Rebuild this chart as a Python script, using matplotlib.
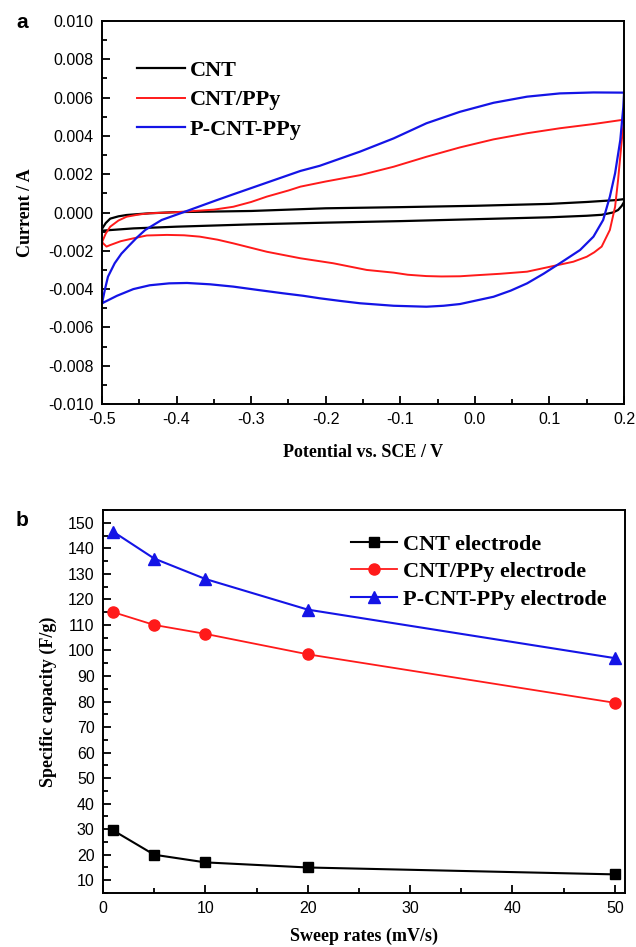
import numpy as np
import matplotlib
matplotlib.use('Agg')
import matplotlib.pyplot as plt
from matplotlib.ticker import MultipleLocator

# ---------------- panel a : CV loops (potential in V, current in mA) ----------------
cnt_v = [-0.5, -0.495, -0.489, -0.478, -0.467, -0.45, -0.436, -0.40, -0.35, -0.30, -0.20, -0.10,
         0.0, 0.10, 0.15, 0.19, 0.2,
         0.2, 0.197, 0.192, 0.185, 0.17, 0.15, 0.10, 0.0, -0.10, -0.20, -0.30, -0.40, -0.458, -0.49, -0.5]
cnt_i = [-0.85, -0.55, -0.32, -0.2, -0.13, -0.08, -0.04, 0.02, 0.05, 0.08, 0.22, 0.28,
         0.35, 0.45, 0.55, 0.65, 0.7,
         0.55, 0.35, 0.13, 0.0, -0.12, -0.17, -0.25, -0.35, -0.45, -0.53, -0.62, -0.74, -0.83, -0.92, -0.95]

pyy_v = [-0.5, -0.495, -0.489, -0.478, -0.467, -0.45, -0.436, -0.41, -0.391, -0.35, -0.324, -0.30,
         -0.279, -0.25, -0.234, -0.20, -0.154, -0.109, -0.065, -0.020, 0.025, 0.070, 0.114, 0.159, 0.2,
         0.2, 0.197, 0.192, 0.188, 0.181, 0.170, 0.160, 0.150, 0.132, 0.101, 0.070, 0.034, 0.0, -0.020,
         -0.045, -0.065, -0.090, -0.109, -0.145, -0.190, -0.234, -0.279, -0.324, -0.345, -0.369,
         -0.39, -0.413, -0.440, -0.458, -0.475, -0.489, -0.494, -0.5]
pyy_i = [-1.55, -1.1, -0.74, -0.42, -0.22, -0.1, -0.04, 0.0, 0.04, 0.15, 0.30, 0.55,
         0.83, 1.15, 1.35, 1.62, 1.95, 2.39, 2.91, 3.40, 3.82, 4.14, 4.40, 4.62, 4.85,
         4.85, 3.79, 1.70, 0.30, -0.91, -1.78, -2.08, -2.31, -2.57, -2.83, -3.09, -3.20, -3.28, -3.33,
         -3.34, -3.32, -3.25, -3.14, -3.0, -2.65, -2.39, -2.05, -1.61, -1.42, -1.26,
         -1.19, -1.17, -1.2, -1.35, -1.5, -1.70, -1.78, -1.55]

pcp_v = [-0.5, -0.496, -0.492, -0.483, -0.474, -0.465, -0.453, -0.442, -0.420, -0.389, -0.348,
         -0.324, -0.279, -0.234, -0.208, -0.154, -0.109, -0.065, -0.020, 0.025, 0.070, 0.114,
         0.159, 0.2,
         0.2, 0.199, 0.195, 0.188, 0.181, 0.172, 0.159, 0.141, 0.114, 0.092, 0.070, 0.048, 0.025,
         -0.020, -0.042, -0.065, -0.109, -0.154, -0.18, -0.208, -0.23, -0.257, -0.29, -0.324,
         -0.355, -0.386, -0.41, -0.436, -0.458, -0.480, -0.5]
pcp_i = [-4.74, -4.0, -3.35, -2.65, -2.15, -1.78, -1.3, -0.91, -0.39, 0.04, 0.62,
         0.95, 1.56, 2.17, 2.44, 3.18, 3.87, 4.66, 5.26, 5.73, 6.05, 6.22,
         6.27, 6.26,
         6.26, 5.5, 3.79, 2.05, 0.83, -0.39, -1.26, -1.96, -2.65, -3.2, -3.70, -4.08, -4.40,
         -4.78, -4.87, -4.92, -4.87, -4.74, -4.62, -4.48, -4.35, -4.22, -4.05, -3.87,
         -3.75, -3.68, -3.70, -3.80, -4.0, -4.35, -4.74]

# ---------------- panel b : capacity vs sweep rate ----------------
rates = [1, 5, 10, 20, 50]
cap_cnt = [29.5, 20.0, 17.0, 15.0, 12.3]
cap_pyy = [115.0, 110.0, 106.5, 98.5, 79.5]
cap_pcp = [146.5, 136.0, 128.0, 116.0, 97.0]

sans = 'Liberation Sans'
serif = 'Liberation Serif'
plt.rcParams['font.family'] = sans
plt.rcParams['axes.linewidth'] = 1.4

fig = plt.figure(figsize=(6.36, 9.47), dpi=100)

# ---- a ----
ax1 = fig.add_axes([0.1604, 0.5734, 0.8208, 0.4044])
ax1.plot(cnt_v, np.array(cnt_i) / 1000, color='black', lw=1.6, label='CNT')
ax1.plot(pyy_v, np.array(pyy_i) / 1000, color='#ff1a1a', lw=1.4, label='CNT/PPy')
ax1.plot(pcp_v, np.array(pcp_i) / 1000, color='#1414e6', lw=1.6, label='P-CNT-PPy')
ax1.set_xlim(-0.5, 0.2)
ax1.set_ylim(-0.010, 0.010)
ax1.xaxis.set_minor_locator(MultipleLocator(0.05))
ax1.yaxis.set_minor_locator(MultipleLocator(0.001))
ax1.set_xticks(np.arange(-0.5, 0.21, 0.1))
ax1.set_xticklabels(['-0.5', '-0.4', '-0.3', '-0.2', '-0.1', '0.0', '0.1', '0.2'])
ax1.set_yticks(np.arange(-0.010, 0.0101, 0.002))
ax1.set_yticklabels(['%.3f' % v for v in np.arange(-0.010, 0.0101, 0.002)])
ax1.set_xlabel('Potential vs. SCE / V', family=serif, weight='bold', fontsize=13, labelpad=12)
ax1.set_ylabel('Current / A', family=serif, weight='bold', fontsize=13, labelpad=10)
ax1.legend(loc='upper left', bbox_to_anchor=(0.067, 0.897), frameon=False,
           prop={'family': serif, 'weight': 'bold', 'size': 16},
           handlelength=2.15, handletextpad=0.22, labelspacing=0.4, borderaxespad=0,
           borderpad=0)

# ---- b ----
ax2 = fig.add_axes([0.162, 0.0570, 0.8208, 0.4044])
ax2.plot(rates, cap_cnt, color='black', lw=1.5, marker='s', ms=7, label='CNT electrode')
ax2.plot(rates, cap_pyy, color='#ff1a1a', lw=1.3, marker='o', ms=8, label='CNT/PPy electrode')
ax2.plot(rates, cap_pcp, color='#1414e6', lw=1.5, marker='^', ms=8.5, label='P-CNT-PPy electrode')
ax2.set_xlim(0, 51)
ax2.set_ylim(5, 155)
ax2.xaxis.set_major_locator(MultipleLocator(10))
ax2.xaxis.set_minor_locator(MultipleLocator(5))
ax2.yaxis.set_minor_locator(MultipleLocator(5))
ax2.set_yticks(np.arange(10, 151, 10))
ax2.set_xlabel('Sweep rates (mV/s)', family=serif, weight='bold', fontsize=13, labelpad=8)
ax2.set_ylabel('Specific capacity (F/g)', family=serif, weight='bold', fontsize=13, labelpad=8)
ax2.legend(loc='upper left', bbox_to_anchor=(0.475, 0.937), frameon=False,
           prop={'family': serif, 'weight': 'bold', 'size': 16},
           handlelength=2.07, handletextpad=0.27, labelspacing=0.31, borderaxespad=0,
           borderpad=0)

for ax in (ax1, ax2):
    ax.tick_params(which='both', direction='in', top=False, right=False, width=1.3)
    ax.tick_params(which='major', length=6, labelsize=11.5, pad=6)
    ax.tick_params(which='minor', length=3.5)

fig.text(22 / 636, 1 - 23 / 947, 'a', family=sans, weight='bold', fontsize=15, va='center', ha='center')
fig.text(22 / 636, 1 - 521 / 947, 'b', family=sans, weight='bold', fontsize=15, va='center', ha='center')

fig.savefig('out.png', dpi=100)
